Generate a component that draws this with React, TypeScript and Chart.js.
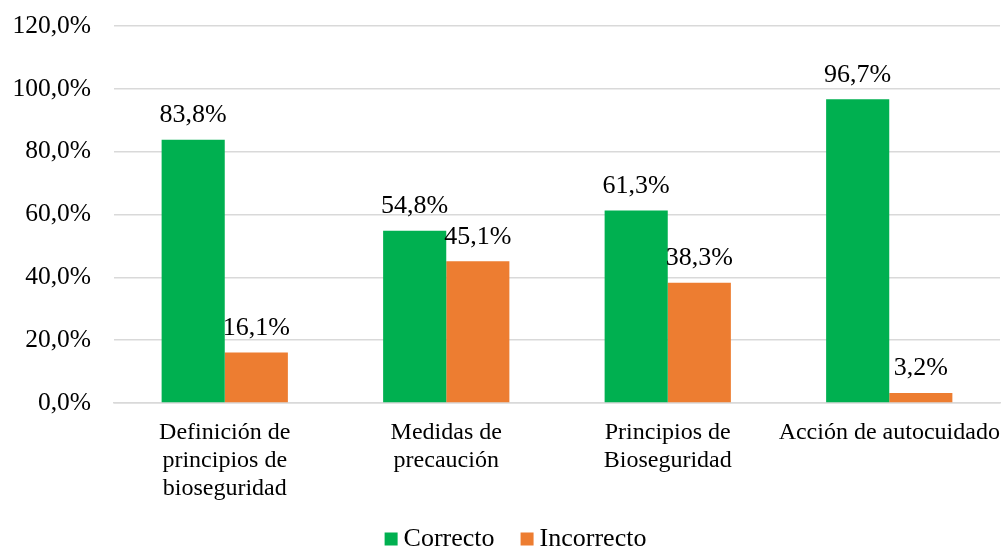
import React, { useEffect, useRef } from "react";
import { Chart, registerables } from "chart.js";

Chart.register(...registerables);

const categories: string[][] = [
  ["Definición de", "principios de", "bioseguridad"],
  ["Medidas de", "precaución"],
  ["Principios de", "Bioseguridad"],
  ["Acción de autocuidado"],
];
const correcto = [83.8, 54.8, 61.3, 96.7];
const incorrecto = [16.1, 45.1, 38.3, 3.2];
const yTicks = [0, 20, 40, 60, 80, 100, 120];
const seriesNames = ["Correcto", "Incorrecto"];
const seriesColors = ["#00B050", "#ED7D31"];

const FONT = "'Liberation Serif', 'Times New Roman', serif";
const FS = 26;
const fmt = (v: number, d: number) => v.toFixed(d).replace(".", ",") + "%";

const dataLabels = {
  id: "dataLabels",
  afterDatasetsDraw(chart: any) {
    const ctx = chart.ctx;
    ctx.save();
    ctx.font = `${FS}px ${FONT}`;
    ctx.fillStyle = "#000";
    ctx.textAlign = "center";
    ctx.textBaseline = "middle";
    chart.data.datasets.forEach((ds: any, i: number) => {
      const meta = chart.getDatasetMeta(i);
      meta.data.forEach((el: any, j: number) => {
        ctx.fillText(fmt(ds.data[j], 1), el.x, el.y - 24.5);
      });
    });
    ctx.restore();
  },
};

const bottomLegend = {
  id: "bottomLegend",
  afterDraw(chart: any) {
    const ctx = chart.ctx;
    ctx.save();
    ctx.font = `${FS}px ${FONT}`;
    ctx.textBaseline = "middle";
    ctx.textAlign = "left";
    const box = 13;
    const gap = 6;
    const spacing = 26;
    const widths = seriesNames.map((n) => ctx.measureText(n).width);
    const total = widths.reduce((a, w) => a + box + gap + w, 0) + spacing * (seriesNames.length - 1);
    let x = 515.5 - total / 2;
    const yc = 539;
    seriesNames.forEach((n, i) => {
      ctx.fillStyle = seriesColors[i];
      ctx.fillRect(x, yc - box / 2, box, box);
      ctx.fillStyle = "#000";
      ctx.fillText(n, x + box + gap, yc);
      x += box + gap + widths[i] + spacing;
    });
    ctx.restore();
  },
};

export default function App() {
  const ref = useRef<HTMLCanvasElement>(null);
  useEffect(() => {
    if (!ref.current) return;
    const chart = new Chart(ref.current, {
      type: "bar",
      data: {
        labels: categories,
        datasets: [
          { label: seriesNames[0], data: correcto, backgroundColor: seriesColors[0] },
          { label: seriesNames[1], data: incorrecto, backgroundColor: seriesColors[1] },
        ],
      },
      options: {
        animation: false,
        responsive: false,
        maintainAspectRatio: false,
        layout: { padding: { left: 0, right: 3, top: 26, bottom: 48 } },
        datasets: { bar: { categoryPercentage: 0.57, barPercentage: 1 } },
        scales: {
          x: {
            afterFit: (scale: any) => {
              scale.height = 549 - 403 - 48;
              scale.paddingLeft = 0;
              scale.paddingRight = 0;
            },
            grid: { display: false, drawTicks: false },
            border: { color: "#D9D9D9", width: 1.5 },
            ticks: {
              color: "#000",
              font: { family: FONT, size: 24, lineHeight: 1.167 },
              padding: 16,
              maxRotation: 0,
              autoSkip: false,
            },
          },
          y: {
            min: 0,
            max: 120,
            afterBuildTicks: (scale: any) => {
              scale.ticks = yTicks.map((v) => ({ value: v }));
            },
            afterFit: (scale: any) => {
              scale.width = 114;
              scale.paddingTop = 0;
              scale.paddingBottom = 0;
            },
            grid: { color: "#D9D9D9", lineWidth: 1.5, drawTicks: false },
            border: { display: false },
            ticks: {
              color: "#000",
              font: { family: FONT, size: 25.5 },
              padding: 23,
              callback: (v: any) => fmt(Number(v), 1),
            },
          },
        },
        plugins: {
          tooltip: { enabled: false },
          legend: { display: false },
        },
      },
      plugins: [dataLabels, bottomLegend],
    } as any);
    return () => chart.destroy();
  }, []);
  return (
    <div style={{ position: "fixed", left: 0, top: 0, width: 1003, height: 549, background: "#fff" }}>
      <canvas ref={ref} width={1003} height={549} />
    </div>
  );
}
